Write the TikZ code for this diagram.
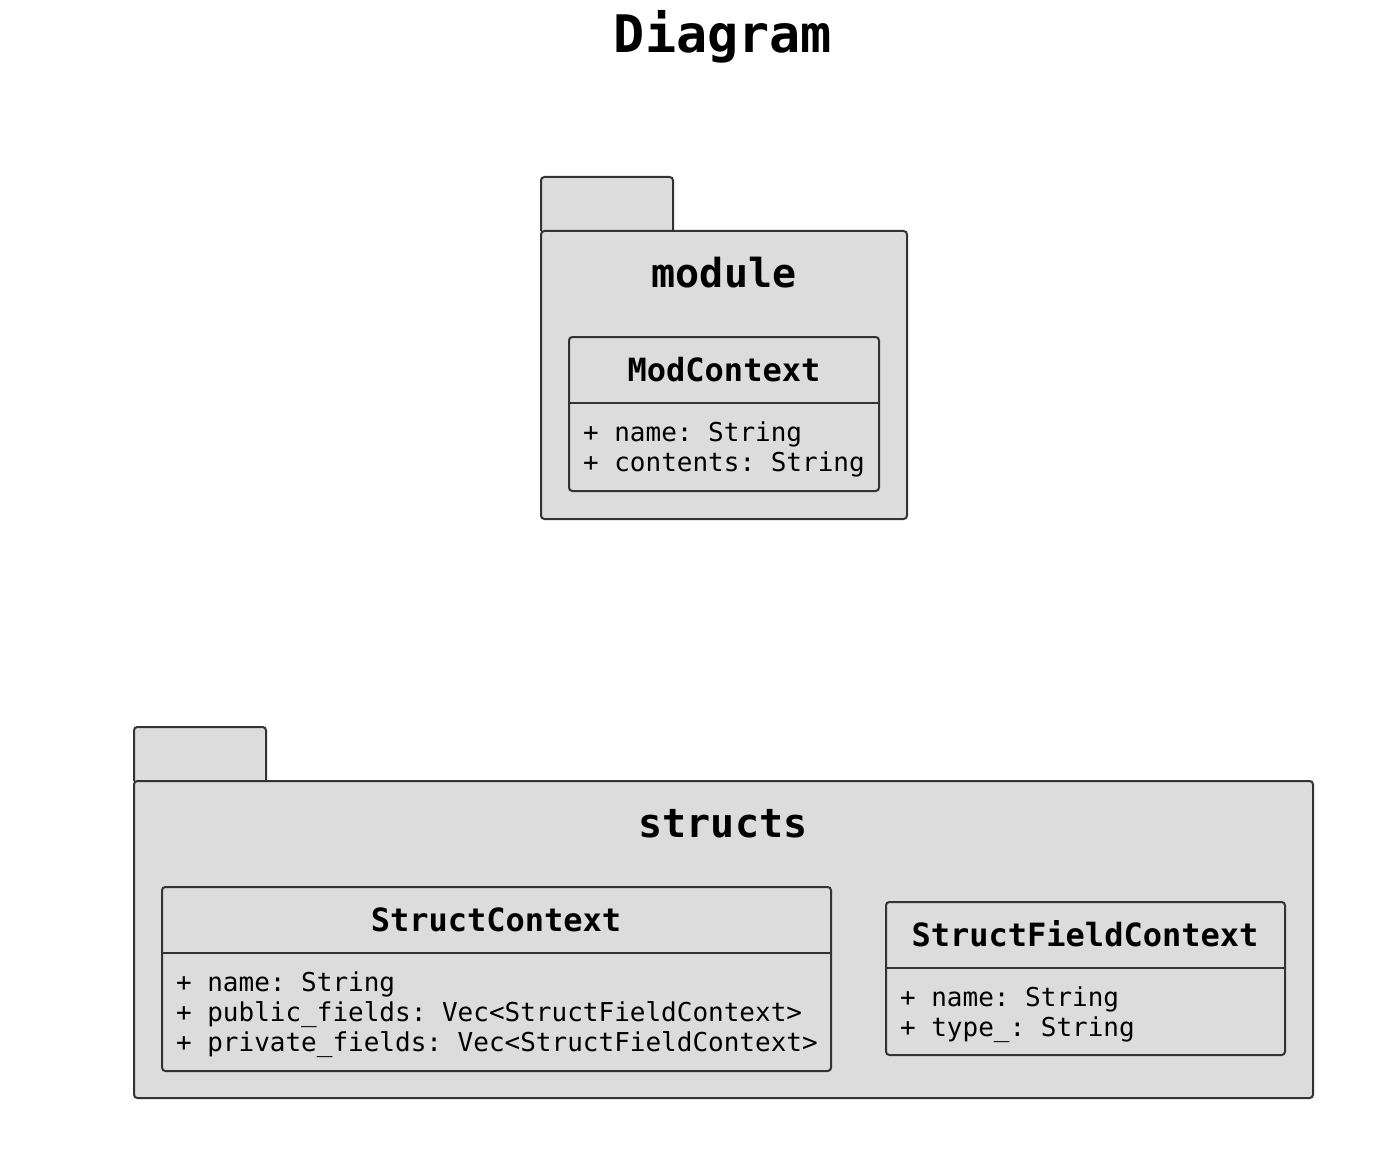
\documentclass[tikz,border=0pt]{standalone}
\usepackage{xcolor}
\usepackage{fontspec}
\usepackage{tikz}
\newfontfamily\umlfont{DejaVu Sans Mono}
\definecolor{umlfill}{HTML}{DCDCDC}
\definecolor{umlline}{HTML}{333333}
\frenchspacing

\begin{document}
\begin{tikzpicture}[x=0.75pt, y=-0.75pt,
  box/.style={draw=umlline, fill=umlfill, line width=1.5pt, rounded corners=2.5pt},
  every node/.style={inner sep=0pt, outer sep=0pt, font=\umlfont},
  pkgname/.style={anchor=base, font=\umlfont\bfseries\fontsize{30}{36}\selectfont},
  clsname/.style={anchor=base, font=\umlfont\bfseries\fontsize{24}{29}\selectfont},
  attrs/.style={anchor=base west, align=left, font=\umlfont\fontsize{19.5}{22.5}\selectfont}]
\useasboundingbox (0,0) rectangle (1396,1170);

\node(title)[anchor=base, font=\umlfont\bfseries\fontsize{38.8}{44}\selectfont] at (723,53) {Diagram};

% package module
\draw[box] (541,231) -- (541,177) -- (673,177) -- (673,231);
\draw[box] (541,231) rectangle (907,519);
\node(module)[pkgname] at (724,287) {module};

\draw[box] (569,337) rectangle (879,491);
\draw[umlline, line width=1.5pt] (569,403) -- (879,403);
\node(ModContext)[clsname] at (724,381) {ModContext};
\node(modattrs)[attrs] at (583,471) {+ name: String\\+ contents: String};

% package structs
\draw[box] (134,781) -- (134,727) -- (266,727) -- (266,781);
\draw[box] (134,781) rectangle (1313,1098);
\node(structs)[pkgname] at (723,837) {structs};

\draw[box] (162,887) rectangle (831,1071);
\draw[umlline, line width=1.5pt] (162,953) -- (831,953);
\node(StructContext)[clsname] at (496,931) {StructContext};
\node(structattrs)[attrs] at (176,1051) {+ name: String\\+ public\_fields: Vec<StructFieldContext>\\+ private\_fields: Vec<StructFieldContext>};

\draw[box] (886,902) rectangle (1285,1055);
\draw[umlline, line width=1.5pt] (886,968) -- (1285,968);
\node(StructFieldContext)[clsname] at (1085,946) {StructFieldContext};
\node(fieldattrs)[attrs] at (900,1036) {+ name: String\\+ type\_: String};
\end{tikzpicture}
\end{document}
